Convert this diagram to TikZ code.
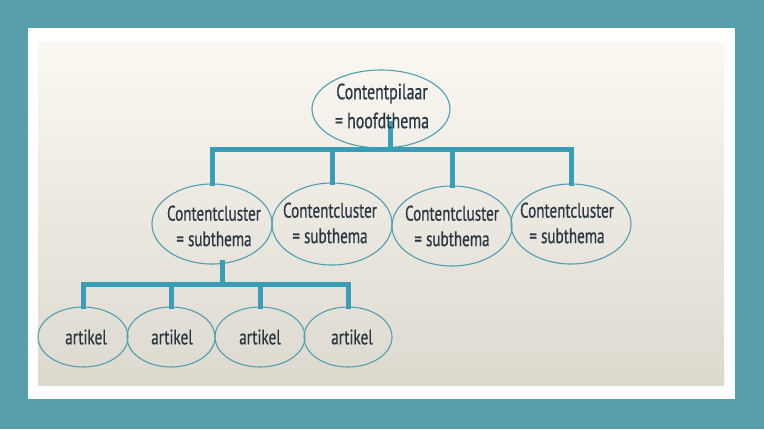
\documentclass[tikz,border=0pt]{standalone}
\usepackage{fontspec}
\setmainfont[FakeStretch=0.72,FakeBold=0.6]{PT Sans}
\usetikzlibrary{shapes.geometric,calc}
\definecolor{frameteal}{HTML}{579FAC}
\definecolor{linkblue}{HTML}{3A9DB8}
\definecolor{ovalline}{HTML}{4E9FB2}
\definecolor{inktext}{HTML}{2A3846}
\definecolor{bgtop}{HTML}{FBF8F2}
\definecolor{bgbot}{HTML}{DDD9CF}
\tikzset{
  oval/.style={ellipse, draw=ovalline, line width=1.1pt, inner sep=0pt},
  toptext/.style={text=inktext, font=\fontsize{22}{29}\selectfont, align=center, inner sep=0pt},
  midtext/.style={text=inktext, font=\fontsize{21}{25.5}\selectfont, align=center, inner sep=0pt},
  arttext/.style={text=inktext, font=\fontsize{21}{25}\selectfont, inner sep=0pt},
  conn/.style={draw=linkblue, line width=5pt, line cap=rect, line join=miter},
}
\begin{document}
\begin{tikzpicture}[x=1pt,y=-1pt]
\useasboundingbox (0,0) rectangle (764,429);
\fill[frameteal] (0,0) rectangle (764,429);
\fill[white] (28,28) rectangle (735,399);
\shade[top color=bgtop, bottom color=bgbot] (38,42) rectangle (724,385);

% ovals
\node[oval, minimum width=138pt, minimum height=78pt] (top) at (381,109) {};
\node[oval, minimum width=120pt, minimum height=80pt] (c1) at (212,224) {};
\node[oval, minimum width=120pt, minimum height=82pt] (c2) at (332,224) {};
\node[oval, minimum width=120pt, minimum height=80pt] (c3) at (452,226) {};
\node[oval, minimum width=120pt, minimum height=80pt] (c4) at (571,224) {};
\node[oval, minimum width=90pt, minimum height=60pt] (a1) at (83,337) {};
\node[oval, minimum width=88pt, minimum height=60pt] (a2) at (171,337) {};
\node[oval, minimum width=90pt, minimum height=60pt] (a3) at (260,337) {};
\node[oval, minimum width=88pt, minimum height=60pt] (a4) at (348,337) {};

% connectors
\coordinate (jtop) at ($(top.center)+(9,14)$);
\coordinate (j1) at (390,149);
\coordinate (jc) at ($(c1.center)+(10,38)$);
\coordinate (j2) at (222,284);
\draw[conn] (jtop) -- (j1);
\draw[conn] (c1.north) |- (j1) -| (c4.north);
\draw[conn] (c2.north) -- (c2.north |- j1);
\draw[conn] (c3.north) -- (c3.north |- j1);
\draw[conn] (jc) -- (j2);
\draw[conn] (a1.north) |- (j2) -| (a4.north);
\draw[conn] (a2.north) -- (a2.north |- j2);
\draw[conn] (a3.north) -- (a3.north |- j2);

% texts
\node[toptext] (ttop) at (382,106) {Contentpilaar\\= hoofdthema};
\node[midtext] (t1) at (214,226) {Contentcluster\\= subthema};
\node[midtext] (t2) at (330,223) {Contentcluster\\= subthema};
\node[midtext] (t3) at (452,226) {Contentcluster\\= subthema};
\node[midtext] (t4) at (567,223) {Contentcluster\\= subthema};
\node[arttext] (ta1) at (86,337) {artikel};
\node[arttext] (ta2) at (172,337) {artikel};
\node[arttext] (ta3) at (260,337) {artikel};
\node[arttext] (ta4) at (352,337) {artikel};
\end{tikzpicture}
\end{document}
